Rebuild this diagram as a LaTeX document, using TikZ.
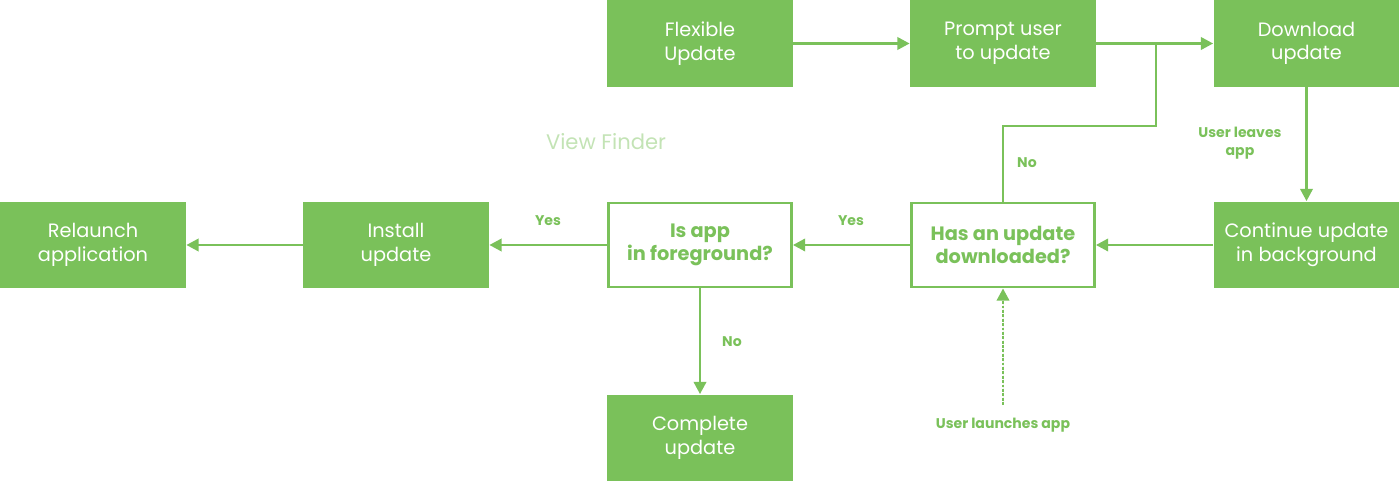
\documentclass[tikz,border=0pt]{standalone}
\usepackage{fontspec}
\setmainfont{Poppins}
\usepackage{tikz}
\usetikzlibrary{positioning,arrows.meta}
\definecolor{vert}{RGB}{122,193,90}

\begin{document}
\begin{tikzpicture}[x=0.02cm,y=-0.02cm]
\tikzstyle{lien}=[-{Triangle[length=7pt,width=7pt]},line width=1.6pt,draw=vert,fill=vert]
\tikzset{etape/.style={fill=vert,text=white,minimum width=3.72cm,minimum height=1.74cm,align=center,inner sep=0pt,font=\fontsize{11}{13.5}\selectfont},
question/.style={draw=vert,line width=1.6pt,fill=white,text=vert,minimum width=3.66cm,minimum height=1.68cm,align=center,inner sep=0pt,font=\fontsize{11}{13.5}\selectfont\bfseries},
remarque/.style={text=vert,align=center,font=\fontsize{8}{10}\selectfont\bfseries}}
\useasboundingbox (0,0) rectangle (1400,482);

\node[etape] (A) at (700,43.5) {Flexible\\Update};
\node[etape] (B) at (1003,43.5) {Prompt user\\to update};
\node[etape] (C) at (1306.5,43.5) {Download\\update};
\node[etape] (D) at (1306.5,245) {Continue update\\in background};
\node[question] (E) at (1003,245) {Has an update\\downloaded?};
\node[question] (F) at (700,245) {Is app\\in foreground?};
\node[etape] (G) at (396,245) {Install\\update};
\node[etape] (H) at (93,245) {Relaunch\\application};
\node[etape] (I) at (700,438) {Complete\\update};

\node[text=vert!45,font=\fontsize{12}{14}\selectfont] (V) at (606,142) {View Finder};

\coordinate (J) at (1156,43.5);
\coordinate (K) at (1156,126);
\coordinate (L) at (1003,405);

\draw[lien] (A) -- (B);
\draw[lien] (B) -- (C);
\draw[line width=1.6pt,draw=vert] (E.north) |- (K) -- (J);
\draw[lien] (C) -- (D);
\draw[lien] (D) -- (E);
\draw[lien] (E) -- (F);
\draw[lien] (F) -- (G);
\draw[lien] (G) -- (H);
\draw[lien] (F) -- (I);
\draw[lien,dash pattern=on 1.6pt off 0.9pt] (L) -- (E.south);

\node[remarque] (N1) at (1027,163) {No};
\node[remarque] (N2) at (1240,143) {User leaves\\app};
\node[remarque] (N3) at (851,221) {Yes};
\node[remarque] (N4) at (548,221) {Yes};
\node[remarque] (N5) at (732,342) {No};
\node[remarque] (N6) at (1003,425) {User launches app};

\end{tikzpicture}
\end{document}
